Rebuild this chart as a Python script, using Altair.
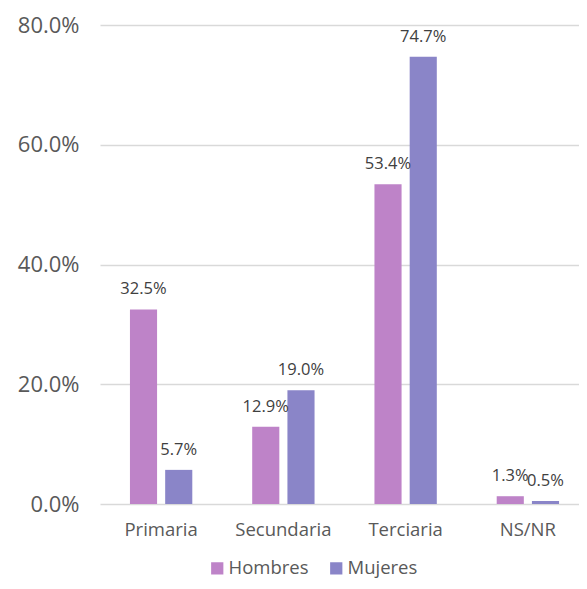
import altair as alt
import pandas as pd

categorias = ["Primaria", "Secundaria", "Terciaria", "NS/NR"]
series = ["Hombres", "Mujeres"]
hombres = [0.325, 0.129, 0.534, 0.013]
mujeres = [0.057, 0.190, 0.747, 0.005]
y_ticks = [0.0, 0.2, 0.4, 0.6, 0.8]
colores = ["#BE83C8", "#8A85C8"]

rows = []
for c, h, m in zip(categorias, hombres, mujeres):
    rows.append({"cat": c, "serie": "Hombres", "valor": h})
    rows.append({"cat": c, "serie": "Mujeres", "valor": m})
df = pd.DataFrame(rows)

FONT = "Open Sans"

x = alt.X("cat:N", sort=categorias, title=None,
          scale=alt.Scale(paddingInner=0.49, paddingOuter=0.245, range=[0, 489]),
          axis=alt.Axis(labelAngle=0, labelFontSize=18.5, labelColor="#595959",
                        labelPadding=16, ticks=False, domain=False, labelFont=FONT))
xo = alt.XOffset("serie:N", sort=series, scale=alt.Scale(paddingInner=0.23, paddingOuter=0))
y = alt.Y("valor:Q", title=None,
          scale=alt.Scale(domain=[0, 0.8], nice=False),
          axis=alt.Axis(values=y_ticks, format=".1%", labelFontSize=22, labelColor="#595959",
                        labelPadding=21, ticks=False, domain=False, gridColor="#d9d9d9",
                        gridWidth=1.5, labelFont=FONT))

base = alt.Chart(df)
bars = base.mark_bar().encode(
    x=x, xOffset=xo, y=y,
    color=alt.Color("serie:N", sort=series,
                    scale=alt.Scale(domain=series, range=colores),
                    legend=alt.Legend(title=None, orient="none", direction="horizontal",
                                      legendX=108, legendY=534, symbolType="square",
                                      symbolSize=150, labelFontSize=18.5, labelColor="#595959",
                                      labelFont=FONT, columnPadding=18, symbolStrokeWidth=0,
                                      labelOffset=2))
)
labels = base.mark_text(dy=-15, baseline="alphabetic", fontSize=16.5, color="#404040", font=FONT).encode(
    x=x, xOffset=xo, y=y,
    text=alt.Text("valor:Q", format=".1%")
)

chart = (bars + labels).properties(
    width=479, height=479,
    autosize=alt.AutoSizeParams(type="none"),
    padding={"left": 92, "top": 17, "right": 0, "bottom": 77},
).configure_view(stroke=None)

chart.save("out.html", embed_options={"renderer": "svg", "actions": False})
